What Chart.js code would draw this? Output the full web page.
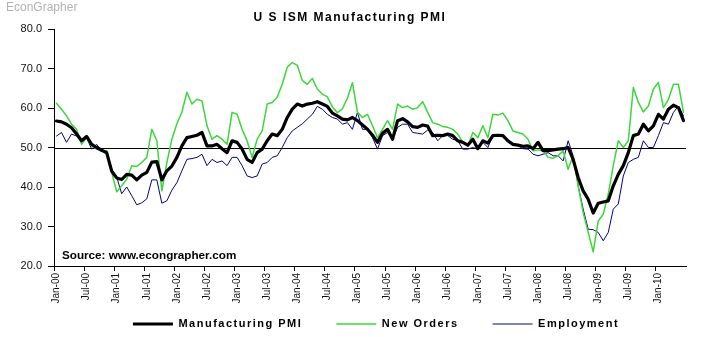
<!DOCTYPE html>
<html>
<head>
<meta charset="utf-8">
<title>US ISM Manufacturing PMI</title>
<script src="https://cdn.jsdelivr.net/npm/chart.js@4"></script>
<style>
  html, body { margin: 0; padding: 0; background: #ffffff; }
  #wrap { width: 713px; height: 337px; position: relative; }
</style>
</head>
<body>
<div id="wrap"><canvas id="pmi" width="713" height="337"></canvas></div>
<script>
// Monthly survey readings, Jan 2000 – Jun 2010
const MONTHS = ['Jan','Feb','Mar','Apr','May','Jun','Jul','Aug','Sep','Oct','Nov','Dec'];
const YEARS = ['00','01','02','03','04','05','06','07','08','09','10'];

const manufacturingPMI = [
  56.7, 56.5, 55.9, 55.0, 53.4, 51.7, 52.8, 50.8, 50.0, 49.3, 48.7, 44.0,
  42.3, 41.9, 43.2, 43.0, 41.8, 43.0, 43.7, 46.3, 46.4, 41.8, 44.1, 45.3,
  47.5, 50.4, 52.5, 52.8, 53.1, 53.8, 50.4, 50.4, 50.8, 49.7, 48.7, 51.7,
  51.3, 49.6, 47.0, 46.2, 48.7, 49.6, 51.7, 53.4, 53.0, 54.6, 57.6, 59.7,
  61.0, 60.5, 61.0, 61.2, 61.6, 61.0, 60.4, 58.7, 58.0, 57.2, 57.0, 57.6,
  56.8, 55.7, 54.6, 53.1, 51.3, 53.6, 54.6, 52.1, 56.8, 57.3, 56.5, 55.3,
  55.1, 55.7, 55.4, 53.0, 53.1, 53.0, 53.4, 53.0, 51.7, 51.3, 50.6, 52.1,
  49.7, 51.7, 51.1, 53.0, 53.1, 53.0, 51.7, 50.8, 50.6, 50.3, 50.4, 49.7,
  51.3, 49.2, 49.2, 49.4, 49.6, 49.7, 50.0, 47.0, 42.4, 39.0, 36.9, 33.4,
  35.9, 36.2, 36.5, 40.3, 43.2, 45.4, 48.7, 53.0, 53.4, 55.9, 54.2, 55.5,
  58.4, 57.2, 59.7, 60.7, 60.1, 56.8
];

const newOrders = [
  61.2, 59.7, 58.0, 55.9, 54.6, 50.8, 52.5, 50.4, 49.6, 49.2, 49.2, 43.7,
  38.8, 40.3, 42.0, 45.4, 45.2, 46.2, 47.5, 54.6, 51.7, 39.0, 46.2, 52.1,
  56.0, 59.0, 64.0, 61.0, 62.2, 61.8, 55.5, 52.1, 53.0, 52.1, 50.8, 58.9,
  58.4, 54.6, 51.7, 47.5, 52.1, 54.2, 61.0, 61.4, 62.7, 66.0, 70.3, 71.5,
  70.8, 67.0, 66.0, 67.5, 64.8, 63.5, 62.8, 60.3, 58.8, 59.8, 62.5, 66.4,
  58.9, 57.6, 58.4, 55.5, 52.5, 54.6, 56.8, 54.6, 61.0, 60.1, 60.5, 59.7,
  60.1, 61.6, 58.9, 56.3, 55.9, 55.3, 55.1, 54.6, 53.4, 51.3, 50.4, 53.8,
  52.5, 55.5, 52.5, 58.4, 58.2, 58.7, 56.8, 54.2, 53.8, 53.4, 52.1, 49.2,
  49.4, 49.2, 47.5, 47.3, 47.9, 49.2, 44.5, 48.0, 40.3, 33.5, 28.5, 23.6,
  31.4, 33.1, 38.2, 45.4, 51.7, 50.0, 51.7, 65.2, 61.4, 59.0, 60.5, 64.8,
  66.5, 60.1, 62.2, 66.0, 66.0, 58.9
];

const employment = [
  52.9, 53.8, 51.3, 53.4, 52.9, 51.7, 52.5, 49.6, 50.8, 49.2, 48.3, 44.5,
  42.5, 38.3, 40.0, 37.8, 35.5, 36.0, 37.0, 41.8, 41.8, 35.9, 36.5, 39.2,
  41.1, 44.1, 47.0, 47.2, 47.5, 48.3, 45.4, 47.0, 46.2, 46.6, 45.4, 47.5,
  47.5, 45.4, 42.8, 42.4, 42.8, 45.8, 46.2, 47.5, 47.9, 50.0, 52.5, 54.2,
  55.1, 56.0, 57.2, 58.4, 60.4, 59.7, 58.4, 57.6, 57.2, 55.9, 56.3, 54.6,
  58.9, 54.6, 54.6, 52.5, 49.6, 53.0, 53.8, 52.1, 55.1, 55.9, 55.9, 53.8,
  53.6, 53.4, 54.4, 53.8, 51.7, 53.0, 53.0, 52.1, 51.7, 49.6, 49.6, 50.0,
  49.6, 51.3, 50.0, 53.0, 53.1, 53.0, 51.3, 50.8, 50.4, 49.7, 49.6, 48.3,
  47.9, 48.3, 48.7, 47.9, 47.9, 46.6, 51.7, 47.9, 40.3, 34.4, 29.3, 29.2,
  28.5, 26.4, 28.5, 34.4, 35.7, 42.8, 46.2, 47.0, 47.5, 51.7, 50.0, 50.0,
  53.0, 56.3, 55.9, 58.9, 60.5, 58.0
];

// Category labels "Jan-00", "Feb-00", ... one per reading
const categories = [];
for (const yy of YEARS) {
  for (const mm of MONTHS) {
    if (categories.length < manufacturingPMI.length) categories.push(mm + '-' + yy);
  }
}

const Y_TICKS = { min: 20, max: 80, step: 10 };
const LABEL_EVERY = 6;          // label and tick mark every half year
const EXPANSION_LEVEL = 50;     // PMI expansion / contraction threshold

const FONT = "'Liberation Sans', Arial, sans-serif";

// Wider character spacing for the title and the legend text
function withSpacing(obj, method, spacing, after) {
  const orig = obj[method];
  obj[method] = function (...args) {
    const ctx = this.ctx;
    const prev = ctx.letterSpacing;
    ctx.letterSpacing = spacing;
    try {
      return orig.apply(this, args);
    } finally {
      ctx.letterSpacing = prev;
      if (after) after.call(this);
    }
  };
}

const decorations = {
  id: 'decorations',
  afterInit(chart) {
    if (chart.legend) {
      withSpacing(chart.legend, 'fit', '1.5px', function () { this.height = Math.min(this.height, 31); });
      withSpacing(chart.legend, 'draw', '1.5px');
    }
    if (chart.titleBlock) withSpacing(chart.titleBlock, 'draw', '1.5px');
  },
  afterLayout(chart) {
    // place the legend row under the axis labels and keep its clip box large enough
    const lg = chart.legend;
    if (lg) {
      const dx = 33, dy = -21.5;
      lg.left += dx; lg.right += dx;
      lg.top += dy;
      lg.bottom = chart.height + 20;
    }
    const tb = chart.titleBlock;
    if (tb) { tb.left += 7; tb.right += 7; }
  },
  beforeDatasetsDraw(chart) {
    const { ctx, chartArea, scales } = chart;
    const y = Math.round(scales.y.getPixelForValue(EXPANSION_LEVEL)) + 0.5;
    ctx.save();
    ctx.strokeStyle = '#000000';
    ctx.lineWidth = 1;
    ctx.beginPath();
    ctx.moveTo(chartArea.left, y);
    ctx.lineTo(chartArea.right, y);
    ctx.stroke();
    ctx.restore();
  },
  afterDraw(chart) {
    const { ctx, chartArea } = chart;
    ctx.save();
    ctx.textBaseline = 'middle';
    ctx.textAlign = 'left';
    ctx.fillStyle = '#b2b2b2';
    ctx.font = '12px ' + FONT;
    ctx.fillText('EconGrapher', 6, 8);
    ctx.fillStyle = '#000000';
    ctx.font = 'bold 11.7px ' + FONT;
    ctx.fillText('Source: www.econgrapher.com', chartArea.left + 8, chartArea.bottom - 10);
    ctx.restore();
  }
};

new Chart(document.getElementById('pmi'), {
  type: 'line',
  data: {
    labels: categories,
    datasets: [
      {
        label: 'Manufacturing PMI',
        data: manufacturingPMI,
        borderColor: '#000000',
        backgroundColor: '#000000',
        borderWidth: 3.2
      },
      {
        label: 'New Orders',
        data: newOrders,
        borderColor: '#3ad83a',
        backgroundColor: '#3ad83a',
        borderWidth: 1.5
      },
      {
        label: 'Employment',
        data: employment,
        borderColor: '#000080',
        backgroundColor: '#000080',
        borderWidth: 1
      }
    ]
  },
  options: {
    responsive: false,
    animation: false,
    events: [],
    elements: {
      point: { radius: 0, hoverRadius: 0 },
      line: { tension: 0, fill: false, borderJoinStyle: 'round', borderCapStyle: 'round' }
    },
    layout: { padding: { left: 0, right: 27, top: 0, bottom: 0 } },
    plugins: {
      title: {
        display: true,
        text: 'U S ISM Manufacturing PMI',
        color: '#000000',
        font: { family: FONT, size: 12, weight: 'bold' },
        padding: { top: 10, bottom: 4.6 }
      },
      legend: {
        position: 'bottom',
        labels: {
          usePointStyle: true,
          pointStyle: 'line',
          pointStyleWidth: 40,
          padding: 34,
          color: '#000000',
          font: { family: FONT, size: 11, weight: 'bold' }
        }
      },
      tooltip: { enabled: false }
    },
    scales: {
      x: {
        type: 'category',
        offset: true,
        grid: {
          offset: true,
          drawOnChartArea: false,
          tickLength: 5,
          color: (c) => (c.index % LABEL_EVERY === 0 ? '#000000' : 'rgba(0,0,0,0)')
        },
        border: { display: true, color: '#000000', width: 1 },
        ticks: {
          autoSkip: false,
          minRotation: 90,
          maxRotation: 90,
          padding: 2,
          color: '#111111',
          font: { family: FONT, size: 10 },
          callback: function (value, index) {
            return index % LABEL_EVERY === 0 ? this.getLabelForValue(value) : '';
          }
        },
        afterFit: (scale) => { scale.height = 40; }
      },
      y: {
        min: Y_TICKS.min,
        max: Y_TICKS.max,
        grid: { drawOnChartArea: false, tickLength: 6, color: '#000000' },
        border: { display: true, color: '#000000', width: 1 },
        ticks: {
          stepSize: Y_TICKS.step,
          padding: 6,
          color: '#111111',
          font: { family: FONT, size: 11 },
          callback: (v) => v.toFixed(1)
        },
        afterFit: (scale) => { scale.width = 54; }
      }
    }
  },
  plugins: [decorations]
});
</script>
</body>
</html>
